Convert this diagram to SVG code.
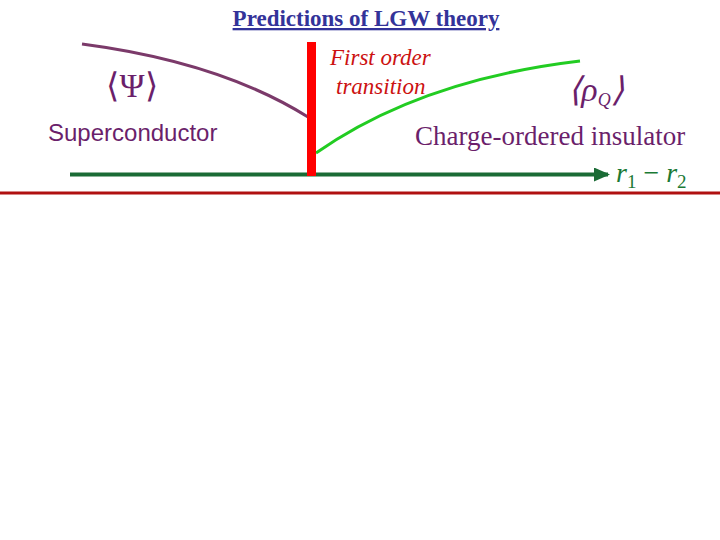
<svg xmlns="http://www.w3.org/2000/svg" width="720" height="540" viewBox="0 0 720 540">
<style>
.t{font-family:"Liberation Serif",serif}
.s{font-family:"Liberation Sans",sans-serif}
</style>
<defs><marker id="ah" markerWidth="16" markerHeight="14" refX="14" refY="7" orient="auto" markerUnits="userSpaceOnUse"><path d="M0,0 L16,7 L0,14 Z" fill="#1a6b35"/></marker></defs>
<rect width="720" height="540" fill="#fff"/>
<g id="title"><text x="366" y="26" text-anchor="middle" class="t" font-size="23" font-weight="bold" fill="#333399" text-decoration="underline">Predictions of LGW theory</text></g>
<line x1="0" y1="193" x2="720" y2="193" stroke="#b01010" stroke-width="3"/>
<g id="connectors">
<line x1="70" y1="174.5" x2="608" y2="174.5" stroke="#1a6b35" stroke-width="4" marker-end="url(#ah)"/>
<path d="M82,44 Q220,62 308,117" fill="none" stroke="#7b3a6a" stroke-width="3"/>
<path d="M316,153 Q420,80 580,61" fill="none" stroke="#22cc22" stroke-width="3"/>
</g>
<g id="transition"><rect x="307" y="42" width="9" height="134" fill="#ff0000"/>
<text x="330" y="65" class="t" font-size="23" font-style="italic" fill="#cc1111">First order</text>
<text x="336" y="94" class="t" font-size="23" font-style="italic" fill="#cc1111">transition</text></g>
<g id="sc"><text x="132" y="97" text-anchor="middle" class="t" font-size="34" fill="#6b1f6b">⟨Ψ⟩</text>
<text x="48" y="141" class="s" font-size="24" fill="#6b1f6b">Superconductor</text></g>
<g id="co"><text x="596" y="101" text-anchor="middle" class="t" font-size="34" font-style="italic" fill="#6b1f6b">⟨ρ<tspan font-size="18" dy="5">Q</tspan><tspan dy="-5">⟩</tspan></text>
<text x="415" y="145" class="t" font-size="27" fill="#6b1f6b">Charge-ordered insulator</text></g>
<g id="axis"><text x="616" y="182" class="t" font-size="28" fill="#1a7a35"><tspan font-style="italic">r</tspan><tspan font-size="19" dy="6">1</tspan><tspan dy="-6"> − </tspan><tspan font-style="italic">r</tspan><tspan font-size="19" dy="6">2</tspan></text></g>
</svg>
